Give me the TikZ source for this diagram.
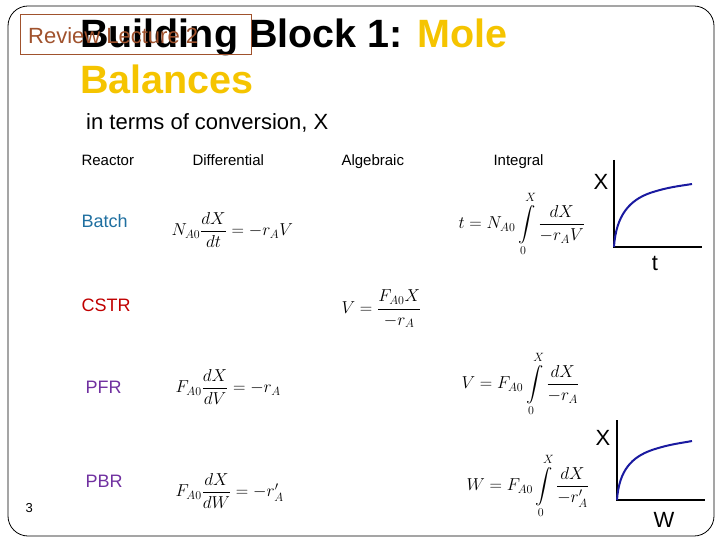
\documentclass[tikz,border=0pt]{standalone}
\usepackage{fontspec}
\setmainfont{Liberation Sans}
\usepackage{amsmath}
\definecolor{gold}{HTML}{F5C400}
\definecolor{brown}{HTML}{A0522D}
\definecolor{bblue}{HTML}{1F6FA0}
\definecolor{rred}{HTML}{C00000}
\definecolor{ppurple}{HTML}{7030A0}
\definecolor{curve}{HTML}{1A1AA0}
\begin{document}
\begin{tikzpicture}[x=1pt,y=-1pt,
  hdr/.style={anchor=base west,font=\fontsize{15}{17}\selectfont},
  row/.style={anchor=base west,font=\fontsize{18}{20}\selectfont},
  eq/.style={anchor=west,font=\fontsize{17}{19}\selectfont},
  ax/.style={line width=2pt},
  cv/.style={curve,line width=2pt}]
\useasboundingbox (0,0) rectangle (720,540);
\draw[line width=0.8pt,rounded corners=20] (8,6) rectangle (714,536);
\node[anchor=base west,inner xsep=0,font=\bfseries\fontsize{39.5}{42}\selectfont] (t1) at (80,48) {Building Block 1: \textcolor{gold}{Mole}};
\node[anchor=base west,inner xsep=0,font=\bfseries\fontsize{39.5}{42}\selectfont,text=gold] (t2) at (80,94) {Balances};
\node[draw=brown,minimum width=231,minimum height=40,anchor=north west,inner sep=0] (rv) at (20,14) {};
\node[anchor=base west,inner xsep=0,font=\fontsize{22}{24}\selectfont,text=brown] (rvt) at (28,44) {Review Lecture 2};
\node[anchor=base west,inner xsep=0,font=\fontsize{22}{24}\selectfont] (sub) at (86,130) {in terms of conversion, X};
\node[hdr] (h1) at (78,166) {Reactor};
\node[hdr] (h2) at (189,166) {Differential};
\node[hdr] (h3) at (338,166) {Algebraic};
\node[hdr] (h4) at (490,166) {Integral};
\node[row,text=bblue] (r1) at (78,228) {Batch};
\node[row,text=rred] (r2) at (78,311) {CSTR};
\node[row,text=ppurple] (r3) at (82,393) {PFR};
\node[row,text=ppurple] (r4) at (82,487) {PBR};
\node[anchor=west,font=\fontsize{13}{15}\selectfont] (pg) at (22,508) {3};
\node[eq] (e1) at (168,230) {$N_{A0}\dfrac{dX}{dt}=-r_AV$};
\node[eq] (e2) at (338,309) {$V=\dfrac{F_{A0}X}{-r_A}$};
\node[eq] (e3) at (172,387) {$F_{A0}\dfrac{dX}{dV}=-r_A$};
\node[eq] (e4) at (172,491) {$F_{A0}\dfrac{dX}{dW}=-r'_A$};
\node[eq] (i1) at (455,224) {$t=N_{A0}\displaystyle\int\limits_0^X\dfrac{dX}{-r_AV}$};
\node[eq] (i3) at (458,384) {$V=F_{A0}\displaystyle\int\limits_0^X\dfrac{dX}{-r_A}$};
\node[eq] (i4) at (463,486) {$W=F_{A0}\displaystyle\int\limits_0^X\dfrac{dX}{-r'_A}$};
% graph 1
\coordinate (o1) at (614,247);
\draw[ax] (614,160) -- (o1) -- (702,247);
\draw[cv] (o1) .. controls (616,215) and (630,200) .. (650,193) .. controls (668,187) and (680,186) .. (692,184);
\node[font=\fontsize{22}{24}\selectfont] (gx1) at (601,182) {X};
\node[font=\fontsize{22}{24}\selectfont] (gt1) at (655,263) {t};
% graph 2
\coordinate (o2) at (617,500);
\draw[ax] (617,420) -- (o2) -- (705,500);
\draw[cv] (o2) .. controls (619,470) and (632,457) .. (652,450) .. controls (670,444) and (682,443) .. (692,441);
\node[font=\fontsize{22}{24}\selectfont] (gx2) at (603,438) {X};
\node[font=\fontsize{22}{24}\selectfont] (gw2) at (664,520) {W};
\end{tikzpicture}
\end{document}
